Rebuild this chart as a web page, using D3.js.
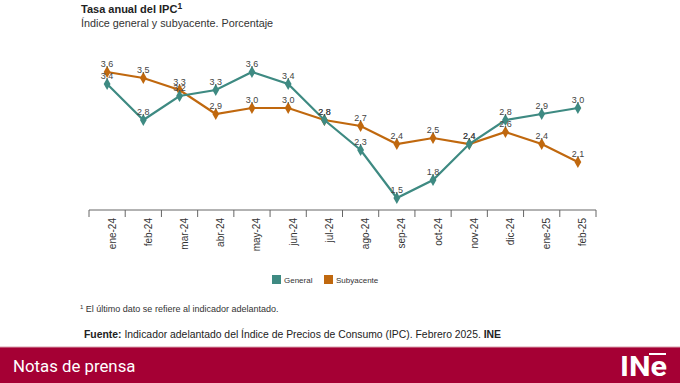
<!DOCTYPE html>
<html><head><meta charset="utf-8">
<script src="https://cdn.jsdelivr.net/npm/d3@7"></script>
<style>
body{margin:0;background:#fff;}
svg{display:block;}
</style></head>
<body>
<svg id="c" width="680" height="383"></svg>
<script>
const months = ["ene-24","feb-24","mar-24","abr-24","may-24","jun-24","jul-24","ago-24","sep-24","oct-24","nov-24","dic-24","ene-25","feb-25"];
const general = [3.4,2.8,3.2,3.3,3.6,3.4,2.8,2.3,1.5,1.8,2.4,2.8,2.9,3.0];
const subyacente = [3.6,3.5,3.3,2.9,3.0,3.0,2.8,2.7,2.4,2.5,2.4,2.6,2.4,2.1];
const seriesNames = ["General","Subyacente"];
const colors = ["#3e8a82","#c0680e"];

const svg = d3.select("#c");
const font = "'Liberation Sans', Arial, sans-serif";

// Title
const t = svg.append("text").attr("x",81).attr("y",13).attr("font-family",font).attr("font-size",11).attr("font-weight","bold").attr("fill","#222");
t.append("tspan").text("Tasa anual del IPC");
t.append("tspan").attr("dy",-4).attr("font-size",8.5).text("1");
svg.append("text").attr("x",81).attr("y",27).attr("font-family",font).attr("font-size",10.8).attr("fill","#333").text("Índice general y subyacente. Porcentaje");

const x = d3.scaleBand().domain(months).range([89,596]).padding(0);
const y = d3.scaleLinear().domain([1.3,3.8]).range([210,60]);
const cx = d => x(d) + x.bandwidth()/2;

// axis
const axis = d3.axisBottom(x).tickSize(0).tickPadding(0);
const ag = svg.append("g").attr("transform",`translate(0,${y(1.3)})`).call(axis);
ag.select(".domain").remove();
ag.selectAll("text").attr("font-family",font).attr("font-size",10).attr("fill","#333")
  .attr("y",0).attr("dy",null).attr("dominant-baseline","central")
  .attr("text-anchor","end").attr("transform","translate(5,8) rotate(-90)");
const y0 = y(1.3);
svg.append("line").attr("x1",x.range()[0]).attr("x2",x.range()[1]).attr("y1",y0).attr("y2",y0).attr("stroke","#666").attr("stroke-width",1);
const bounds = months.map(m=>x(m)).concat([x.range()[1]]);
svg.selectAll(".bt").data(bounds).enter().append("line")
  .attr("x1",d=>d).attr("x2",d=>d).attr("y1",y0).attr("y2",y0+7).attr("stroke","#666").attr("stroke-width",1);

// lines
const data = [general, subyacente];
const line = d3.line().x((d,i)=>cx(months[i])).y(d=>y(d));
const diamond = d3.symbol().type(d3.symbolDiamond).size(40);
[1,0].forEach(s=>{
  const g = svg.append("g");
  g.append("path").attr("d",line(data[s])).attr("fill","none").attr("stroke",colors[s]).attr("stroke-width",2.2);
  g.selectAll("path.m").data(data[s]).enter().append("path").attr("class","m")
    .attr("d",diamond).attr("transform",(d,i)=>`translate(${cx(months[i])},${y(d)})`).attr("fill",colors[s]);
});
[0,1].forEach(s=>{
  svg.append("g").selectAll("text").data(data[s]).enter().append("text")
    .attr("x",(d,i)=>cx(months[i])).attr("y",d=>y(d)-5)
    .attr("text-anchor","middle").attr("font-family",font).attr("font-size",9).attr("fill","#444")
    .text(d=>d.toFixed(1).replace(".",","));
});

// legend
const lx = [272,324];
seriesNames.forEach((n,i)=>{
  svg.append("rect").attr("x",lx[i]).attr("y",275).attr("width",9).attr("height",9).attr("fill",colors[i]);
  svg.append("text").attr("x",lx[i]+12).attr("y",283).attr("font-family",font).attr("font-size",8).attr("fill","#333").text(n);
});

// footnote
const fn = svg.append("text").attr("x",80).attr("y",312).attr("font-family",font).attr("font-size",9).attr("fill","#333");
fn.append("tspan").attr("font-size",6).attr("dy",-3).text("1");
fn.append("tspan").attr("dy",3).text(" El último dato se refiere al indicador adelantado.");
const src = svg.append("text").attr("x",84).attr("y",338).attr("font-family",font).attr("font-size",10.4).attr("fill","#222");
src.append("tspan").attr("font-weight","bold").text("Fuente:");
src.append("tspan").text(" Indicador adelantado del Índice de Precios de Consumo (IPC).  Febrero 2025. ");
src.append("tspan").attr("font-weight","bold").text("INE");

// banner
svg.append("rect").attr("x",0).attr("y",347).attr("width",680).attr("height",36).attr("fill","#a50034");
svg.append("line").attr("x1",0).attr("x2",680).attr("y1",347).attr("y2",347).attr("stroke","#d9a0ad").attr("stroke-width",1);
svg.append("text").attr("x",13).attr("y",372).attr("font-family","Roboto, sans-serif").attr("font-size",16.8).attr("fill","#fff").text("Notas de prensa");
svg.append("text").attr("x",620).attr("y",376).attr("font-family","Roboto, sans-serif").attr("font-weight","bold").attr("font-size",27)
  .attr("fill","#fff").attr("textLength",47).attr("lengthAdjust","spacingAndGlyphs").text("INe");
svg.append("line").attr("x1",649).attr("x2",666).attr("y1",354).attr("y2",354).attr("stroke","#fff").attr("stroke-width",2);
</script>
</body></html>
